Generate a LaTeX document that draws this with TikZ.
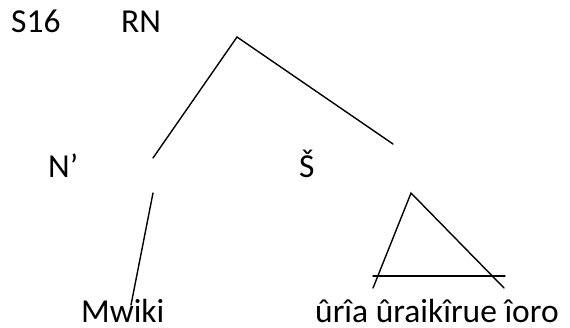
\documentclass[tikz,border=0pt]{standalone}
\usepackage{fontspec}
\setmainfont{Carlito}
\begin{document}
\begin{tikzpicture}[x=1pt,y=-1pt,
  lbl/.style={anchor=base west,inner sep=0pt,font=\fontsize{33.5}{38}\selectfont},
  edge/.style={line width=1.4pt,line cap=round}]
\useasboundingbox (0,0) rectangle (570,327);
\node[lbl] (s16) at (11,32) {S16};
\node[lbl] (rn) at (121,32) {RN};
\node[lbl] (np) at (48,177) {N’};
\node[lbl] (sh) at (299,177) {Š};
\node[lbl] (mw) at (81,322) {Mwiki};
\node[lbl] (ur) at (315,322) {ûrîa ûraikîrue îoro};
\coordinate (top) at (237,37);
\coordinate (tl) at (153,158);
\coordinate (tr) at (393,144);
\coordinate (mt) at (153,193);
\coordinate (mb) at (131,305);
\coordinate (ta) at (411,193);
\coordinate (tbl) at (373,288);
\coordinate (tbr) at (504,288);
\coordinate (hl) at (373,276);
\coordinate (hr) at (505,276);
\draw[edge] (tl) -- (top) -- (tr);
\draw[edge] (mt) -- (mb);
\draw[edge] (tbl) -- (ta) -- (tbr);
\draw[edge] (hl) -- (hr);
\end{tikzpicture}
\end{document}
